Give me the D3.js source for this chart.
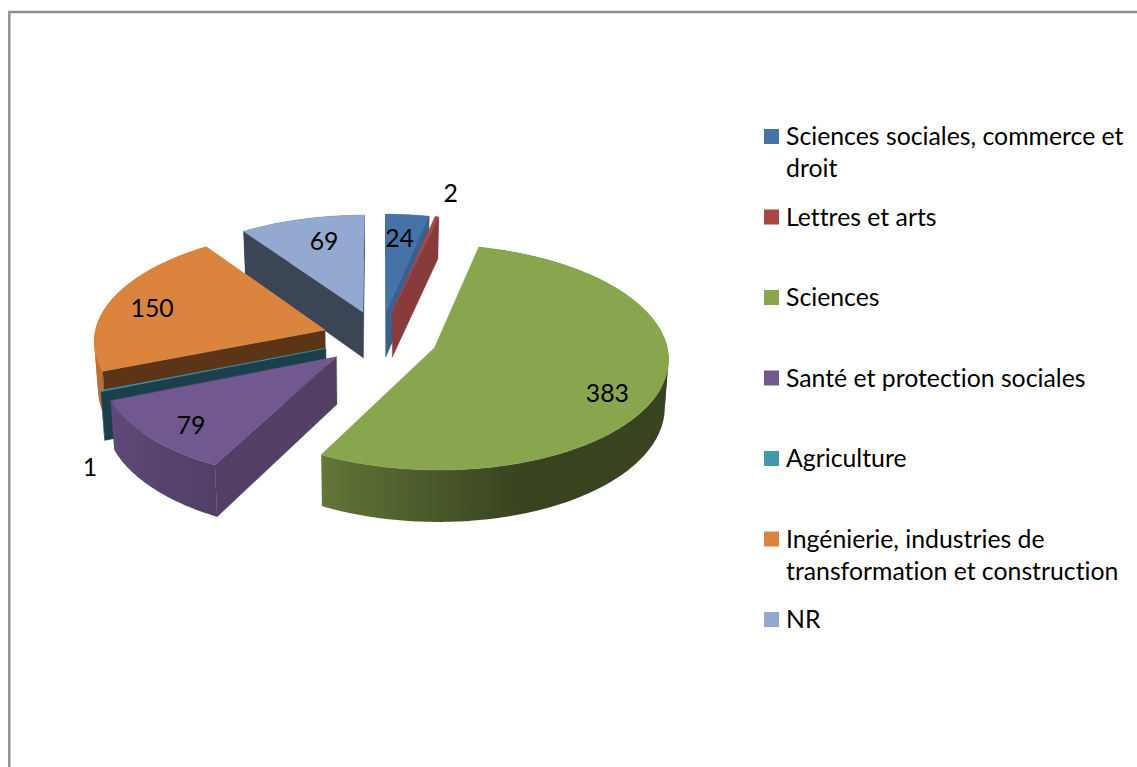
<!DOCTYPE html>
<html><head><meta charset="utf-8">
<script src="https://cdn.jsdelivr.net/npm/d3@7/dist/d3.min.js"></script>
<style>html,body{margin:0;padding:0;background:#fff}svg{display:block}text{font-family:Lato,Carlito,sans-serif;fill:#000;font-variant-ligatures:none}</style>
</head><body><svg id="c" width="1137" height="767"></svg>
<script>
const categories = ["Sciences sociales, commerce et droit","Lettres et arts","Sciences","Santé et protection sociales","Agriculture","Ingénierie, industries de transformation et construction","NR"];
const legendLines = [["Sciences sociales, commerce et","droit"],["Lettres et arts"],["Sciences"],["Santé et protection sociales"],["Agriculture"],["Ingénierie, industries de","transformation et construction"],["NR"]];
const values = [24,2,383,79,1,150,69];
const topColors = ["#4572A7","#AA4643","#89A54E","#71588F","#4198AF","#DB843D","#93A9CF"];
const wallColors = ["#39608F","#893A3A","#55692B","#533F66","#1B3F4B","#5C3518","#3B4556"];
const labelRadius = [0.745,1.29,0.81,0.815,1.335,0.80,0.74];
const labelTurn = [-1,0.6,8,-2.4,-25,-1.5,2.8];

const W=1137,H=767,FS=24.8;
const cx=380, cy=338, explode=0.25, rad=Math.PI/180;
const svg=d3.select("#c");
const defs=svg.append("defs");

// frame
svg.append("path").attr("d",`M9.3 767V12H${W}`).attr("fill","none").attr("stroke","#8E8E8E").attr("stroke-width",2.4);

// perspective projection of the tilted disc
const scaleX=d3.scaleLinear().domain([-1,1]).range([251,211]);
const scaleY=d3.scaleLinear().domain([-1,1]).range([120.5,101.5]);
const depth=d3.scaleLinear().domain([216,472]).range([42,52]);
const project=(X,Y)=>[cx+X*scaleX(Y),cy-Y*scaleY(Y)];
const lower=([x,y])=>[cx+(x-cx)*0.987,y+depth(y)];
const shade=d3.scaleLinear().domain([163,208,250]).range([0.41,0.72,0.85]).clamp(true);

const arcs=d3.pie().sort(null).value(d=>d)(values).map((a,i)=>{
  const mid=(a.startAngle+a.endAngle)/2;
  return {i,a0:a.startAngle,a1:a.endAngle,mid,ox:explode*Math.sin(mid),oy:explode*Math.cos(mid)};
});
const pt=(s,a,r=1)=>project(s.ox+r*Math.sin(a),s.oy+r*Math.cos(a));
const line=d3.line();
const rimAngles=s=>{const n=Math.max(2,Math.ceil((s.a1-s.a0)/rad));return d3.range(n+1).map(k=>s.a0+(s.a1-s.a0)*k/n);};

// rim fill: a horizontal gradient over the front half of the rim
function rimFill(s){
  const lo=Math.max(s.a0,95*rad), hi=Math.min(s.a1,270*rad);
  if(hi<=lo) return wallColors[s.i];
  const base=d3.color(topColors[s.i]);
  const x1=pt(s,lo)[0], x2=pt(s,hi)[0], id="rim"+s.i;
  const gr=defs.append("linearGradient").attr("id",id).attr("gradientUnits","userSpaceOnUse")
    .attr("x1",x1).attr("x2",x2).attr("y1",0).attr("y2",0);
  d3.range(13).forEach(k=>{
    const a=lo+(hi-lo)*k/12, f=shade(a/rad);
    gr.append("stop").attr("offset",(pt(s,a)[0]-x1)/(x2-x1))
      .attr("stop-color",d3.rgb(base.r*f,base.g*f,base.b*f).formatHex());
  });
  return `url(#${id})`;
}
// split the rim where it folds at its leftmost and rightmost points
function rimRuns(top){
  const xs=top.map(p=>p[0]);
  const cuts=[...new Set([0,d3.maxIndex(xs),d3.minIndex(xs),top.length-1])].sort((a,b)=>a-b);
  return d3.pairs(cuts).map(([a,b])=>top.slice(a,b+1));
}

// back to front
const order=arcs.slice().sort((p,q)=>q.oy-p.oy);
order.forEach(s=>{
  const g=svg.append("g"), apex=pt(s,0,0);
  const as=rimAngles(s);
  const top=as.map(a=>pt(s,a));
  const fill=rimFill(s);
  // rim wall
  rimRuns(top).forEach(run=>{
    g.append("path").attr("d",line([...run,...run.slice().reverse().map(lower)])+"Z").attr("fill",fill);
  });
  // radial walls facing the viewer
  [[s.a0,-1],[s.a1,1]].forEach(([a,sign])=>{
    const r=pt(s,a);
    if((r[0]-apex[0])*sign>0){
      g.append("path").attr("d",line([apex,r,lower(r),lower(apex)])+"Z").attr("fill",wallColors[s.i]).attr("stroke",wallColors[s.i]).attr("stroke-width",0.4);
    }
  });
  // top face
  g.append("path").attr("d",line([apex,...top])+"Z").attr("fill",topColors[s.i]).attr("stroke",topColors[s.i]).attr("stroke-width",0.5);
});

// value labels
arcs.forEach(s=>{
  const [x,y]=pt(s,s.mid+labelTurn[s.i]*rad,labelRadius[s.i]);
  svg.append("text").attr("x",x).attr("y",y).attr("text-anchor","middle").attr("dominant-baseline","central").attr("font-size",FS).text(values[s.i]);
});

// legend
const row=d3.scaleLinear().domain([0,6]).range([135.5,618.5]);
const lg=svg.selectAll("g.lg").data(categories).join("g").attr("class","lg").attr("transform",(d,i)=>`translate(764,${row(i)})`);
lg.append("rect").attr("x",0).attr("y",-6.5).attr("width",15).attr("height",15).attr("fill",(d,i)=>topColors[i]);
lg.each(function(d,i){
  d3.select(this).selectAll("text").data(legendLines[i]).join("text")
    .attr("x",22).attr("y",(t,j)=>j*32).attr("dominant-baseline","central").attr("font-size",FS).text(t=>t);
});
</script></body></html>
